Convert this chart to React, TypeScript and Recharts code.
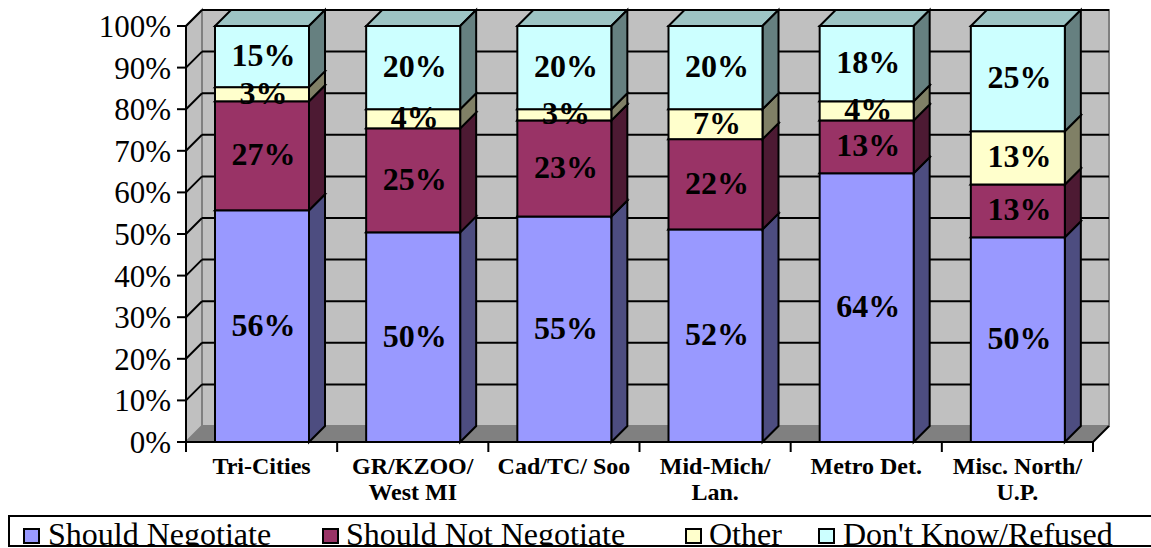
import React from "react";
import { ComposedChart, Bar, Line, XAxis, YAxis, LabelList, Legend, ReferenceArea } from "recharts";

const categories = ["Tri-Cities", "GR/KZOO/\nWest MI", "Cad/TC/ Soo", "Mid-Mich/\nLan.", "Metro Det.", "Misc. North/\nU.P."];
const seriesNames = ["Should Negotiate", "Should Not Negotiate", "Other", "Don't Know/Refused"];
const shouldNegotiate = [55.7, 50.4, 54.2, 51.1, 64.6, 49.2];
const shouldNot = [26.2, 25, 23.1, 21.7, 12.7, 12.7];
const other = [3.4, 4.6, 2.7, 7.2, 4.6, 12.8];
const dontKnow = [14.7, 20, 20, 20, 18.1, 25.3];
const labelsNegotiate = ["56%", "50%", "55%", "52%", "64%", "50%"];
const labelsNot = ["27%", "25%", "23%", "22%", "13%", "13%"];
const labelsOther = ["3%", "4%", "3%", "7%", "4%", "13%"];
const labelsDontKnow = ["15%", "20%", "20%", "20%", "18%", "25%"];
const yTicks = [0, 10, 20, 30, 40, 50, 60, 70, 80, 90, 100];

const frontColors = ["#9999FF", "#993366", "#FFFFCC", "#CCFFFF"];
const sideColors = ["#4D4D80", "#4D1A33", "#808066", "#668080"];
const topColors = ["#7A7ACC", "#7A2952", "#CCCCA3", "#9DC4C4"];

const SERIF = "'Liberation Serif', 'Times New Roman', serif";
const D = 16;

const values = [shouldNegotiate, shouldNot, other, dontKnow];
const labels = [labelsNegotiate, labelsNot, labelsOther, labelsDontKnow];
const data = categories.map((name, i) => {
  const row: Record<string, any> = { name };
  let base = 0;
  values.forEach((arr, s) => {
    row[`v${s}`] = arr[i];
    row[`m${s}`] = base + arr[i] / 2;
    row[`l${s}`] = labels[s][i];
    base += arr[i];
  });
  return row;
});

const Walls = (p: any) => {
  const { x, y, width, height } = p;
  const bottom = y + height;
  const right = x + width;
  return (
    <g>
      <polygon points={`${x},${bottom} ${x + D},${bottom - D} ${x + D},${y - D} ${x},${y}`} fill="#C0C0C0" stroke="#808080" strokeWidth={2} />
      <rect x={x + D} y={y - D} width={width} height={height} fill="#C0C0C0" stroke="#808080" strokeWidth={2} />
      <polygon points={`${x},${bottom} ${right},${bottom} ${right + D},${bottom - D} ${x + D},${bottom - D}`} fill="#808080" stroke="#808080" />
      {yTicks.slice(1).map((t) => {
        const ty = bottom - (height * t) / 100;
        return (
          <g key={t}>
            <line x1={x} y1={ty} x2={x + D} y2={ty - D} stroke="#000" strokeWidth={2} />
            <line x1={x + D} y1={ty - D} x2={right + D} y2={ty - D} stroke="#000" strokeWidth={2} />
          </g>
        );
      })}
      {categories.map((_, i) => i).concat(categories.length).map((i) => {
        const tx = x + (width * i) / categories.length;
        return <line key={i} x1={tx} y1={bottom} x2={tx} y2={bottom + 10} stroke="#000" strokeWidth={2} />;
      })}
      <line x1={right} y1={bottom} x2={right + D} y2={bottom - D} stroke="#000" strokeWidth={2} />
    </g>
  );
};

const makeBar = (s: number) => (p: any) => {
  const { x, y, width, height } = p;
  const r = x + width;
  const b = y + height;
  return (
    <g stroke="#000" strokeWidth={2} strokeLinejoin="miter">
      <polygon points={`${x},${y} ${r},${y} ${r + D},${y - D} ${x + D},${y - D}`} fill={topColors[s]} />
      <polygon points={`${r},${y} ${r + D},${y - D} ${r + D},${b - D} ${r},${b}`} fill={sideColors[s]} />
      <rect x={x} y={y} width={width} height={height} fill={frontColors[s]} />
    </g>
  );
};

const XTick = (p: any) => {
  const lines = String(p.payload.value).split("\n");
  return (
    <text x={p.x} y={474} textAnchor="middle" fontFamily={SERIF} fontWeight="bold" fontSize={24} fill="#000">
      {lines.map((l, i) => (
        <tspan key={i} x={p.x} y={474 + i * 26}>{l}</tspan>
      ))}
    </text>
  );
};

const LegendBox = () => {
  const lefts = [23, 322, 685, 818];
  const textLefts = [48, 346, 709, 843];
  return (
    <div style={{ position: "relative", width: 1143, height: 32, boxSizing: "border-box", border: "2px solid #000", borderRight: "none", background: "#fff", overflow: "hidden", fontFamily: SERIF, fontSize: 32, color: "#000" }}>
      {seriesNames.map((n, i) => (
        <React.Fragment key={n}>
          <span style={{ position: "absolute", left: lefts[i] - 10, top: 11, width: 17, height: 16, boxSizing: "border-box", border: "2px solid #000", background: frontColors[i] }} />
          <span style={{ position: "absolute", left: textLefts[i] - 10, top: 0, lineHeight: "34px", whiteSpace: "pre" }}>{n}</span>
        </React.Fragment>
      ))}
    </div>
  );
};

export default function App() {
  return (
    <div style={{ position: "absolute", left: 0, top: 0, width: 1151, height: 548, overflow: "hidden" }}>
      <ComposedChart width={1151} height={548} data={data} margin={{ top: 26, right: 58, left: 0, bottom: 0 }} barSize={94}>
        <XAxis dataKey="name" height={74} interval={0} tickLine={false} axisLine={{ stroke: "#000", strokeWidth: 2 }} tick={<XTick />} />
        <YAxis
          type="number"
          domain={[0, 100]}
          ticks={yTicks}
          width={186}
          tickFormatter={(v: number) => `${v}%`}
          tickSize={9}
          tickMargin={6}
          tickLine={{ stroke: "#000", strokeWidth: 2 }}
          axisLine={{ stroke: "#000", strokeWidth: 2 }}
          tick={{ fill: "#000", fontFamily: SERIF, fontSize: 31 }}
        />
        <ReferenceArea y1={0} y2={100} shape={<Walls />} ifOverflow="visible" />
        {seriesNames.map((_, s) => (
          <Bar key={s} dataKey={`v${s}`} stackId="a" shape={makeBar(s)} isAnimationActive={false} legendType="none" />
        ))}
        {seriesNames.map((_, s) => (
          <Line key={s} dataKey={`m${s}`} stroke="none" dot={false} activeDot={false} isAnimationActive={false} legendType="none">
            <LabelList dataKey={`l${s}`} position="center" dx={2} dy={-2} fill="#000" fontFamily={SERIF} fontWeight="bold" fontSize={32} />
          </Line>
        ))}
        <Legend verticalAlign="bottom" height={50} content={<LegendBox />} wrapperStyle={{ left: 8, bottom: 0, top: 515, width: 1143, height: 32 }} />
      </ComposedChart>
    </div>
  );
}
